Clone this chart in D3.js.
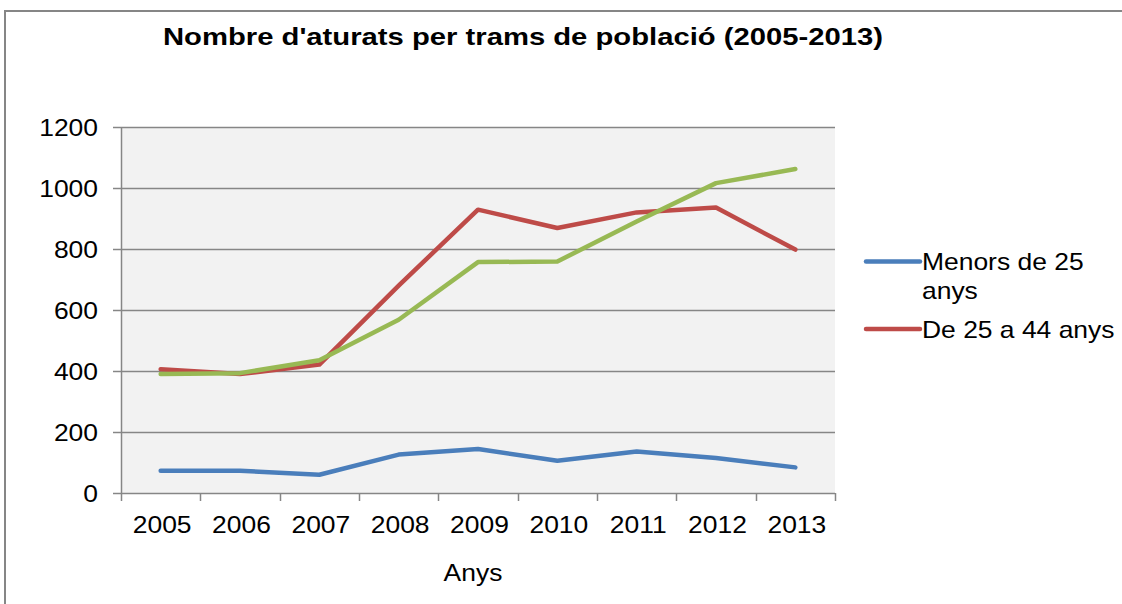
<!DOCTYPE html>
<html>
<head>
<meta charset="utf-8">
<script src="https://cdn.jsdelivr.net/npm/d3@7"></script>
<style>
  body { margin: 0; background: #fff; }
  svg text { font-family: "Liberation Sans", Arial, sans-serif; fill: #000; }
</style>
</head>
<body>
<svg width="1122" height="604"></svg>
<script>
///////////////////////////////////////////
// Data
var years = ["2005", "2006", "2007", "2008", "2009", "2010", "2011", "2012", "2013"];
var menors25 = [73, 73, 60, 126, 144, 106, 136, 115, 84];
var de25a44 = [406, 390, 421, 680, 929, 869, 920, 936, 798];
var de45a64 = [390, 393, 435, 568, 757, 759, 890, 1016, 1062];
var yTicks = [0, 200, 400, 600, 800, 1000, 1200];
var seriesNames = ["Menors de 25 anys", "De 25 a 44 anys", "De 45 a 64 anys"];
var seriesColors = ["#4a7ebb", "#be4b48", "#98b954"];

///////////////////////////////////////////
// Layout
var svg = d3.select("svg");
var plot = {left: 121, right: 835, top: 127, bottom: 493};
var gridColor = "#868686";
var sx = 1.15; // text in the picture is a bit wider than plain Arial

var x = d3.scaleBand().domain(years).range([plot.left, plot.right]);
var y = d3.scaleLinear().domain([0, 1200]).range([plot.bottom, plot.top]);

function label(g, txt, px, py, anchor, size, weight) {
  return g.append("text")
    .attr("transform", "translate(" + px + "," + py + ") scale(" + sx + ",1)")
    .attr("text-anchor", anchor)
    .style("font-size", size + "px")
    .style("font-weight", weight || "normal")
    .text(txt);
}

// outer chart border
svg.append("rect")
  .attr("x", 5).attr("y", 11).attr("width", 1130).attr("height", 620)
  .attr("fill", "#fff").attr("stroke", gridColor).attr("stroke-width", 2);

// title
svg.append("text")
  .attr("x", 163).attr("y", 45)
  .attr("textLength", 720).attr("lengthAdjust", "spacingAndGlyphs")
  .style("font-size", "24px").style("font-weight", "bold")
  .text("Nombre d'aturats per trams de població (2005-2013)");

// plot area
svg.append("rect")
  .attr("x", plot.left).attr("y", plot.top)
  .attr("width", plot.right - plot.left).attr("height", plot.bottom - plot.top)
  .attr("fill", "#f2f2f2");

// gridlines + y ticks
var gy = svg.append("g");
yTicks.forEach(function(t) {
  var yy = Math.round(y(t)) + 0.5;
  gy.append("line")
    .attr("x1", plot.left - 8).attr("x2", plot.right)
    .attr("y1", yy).attr("y2", yy)
    .attr("stroke", gridColor).attr("stroke-width", 1.5);
  label(gy, t, 98, y(t) + 8.5, "end", 23);
});

// y axis line
svg.append("line")
  .attr("x1", plot.left + 0.5).attr("x2", plot.left + 0.5)
  .attr("y1", plot.top).attr("y2", plot.bottom)
  .attr("stroke", gridColor).attr("stroke-width", 1.5);

// x ticks at band edges
var gx = svg.append("g");
var edges = years.map(function(d) { return x(d); }).concat([plot.right]);
edges.forEach(function(e) {
  gx.append("line")
    .attr("x1", Math.round(e) + 0.5).attr("x2", Math.round(e) + 0.5)
    .attr("y1", plot.bottom).attr("y2", plot.bottom + 8)
    .attr("stroke", gridColor).attr("stroke-width", 1.5);
});
years.forEach(function(d) {
  label(gx, d, x(d) + x.bandwidth() / 2 + 1.5, 533, "middle", 23);
});

// x axis title
label(svg, "Anys", 473, 581, "middle", 23);

///////////////////////////////////////////
// Lines
var line = d3.line()
  .x(function(d, i) { return x(years[i]) + x.bandwidth() / 2; })
  .y(function(d) { return y(d); });

[menors25, de25a44, de45a64].forEach(function(s, i) {
  svg.append("path")
    .datum(s)
    .attr("d", line)
    .attr("fill", "none")
    .attr("stroke", seriesColors[i])
    .attr("stroke-width", 4.5)
    .attr("stroke-linejoin", "round")
    .attr("stroke-linecap", "round");
});

///////////////////////////////////////////
// Legend (only the first two entries fit in the picture)
var lg = svg.append("g");
var legendRows = [
  {lineY: 261.5, lines: ["Menors de 25", "anys"], baselines: [270, 299]},
  {lineY: 329, lines: ["De 25 a 44 anys"], baselines: [337.5]}
];
legendRows.forEach(function(r, i) {
  lg.append("line")
    .attr("x1", 866).attr("x2", 920)
    .attr("y1", r.lineY).attr("y2", r.lineY)
    .attr("stroke", seriesColors[i]).attr("stroke-width", 4.5)
    .attr("stroke-linecap", "round");
  r.lines.forEach(function(t, j) {
    label(lg, t, 922, r.baselines[j], "start", 23);
  });
});
</script>
</body>
</html>
